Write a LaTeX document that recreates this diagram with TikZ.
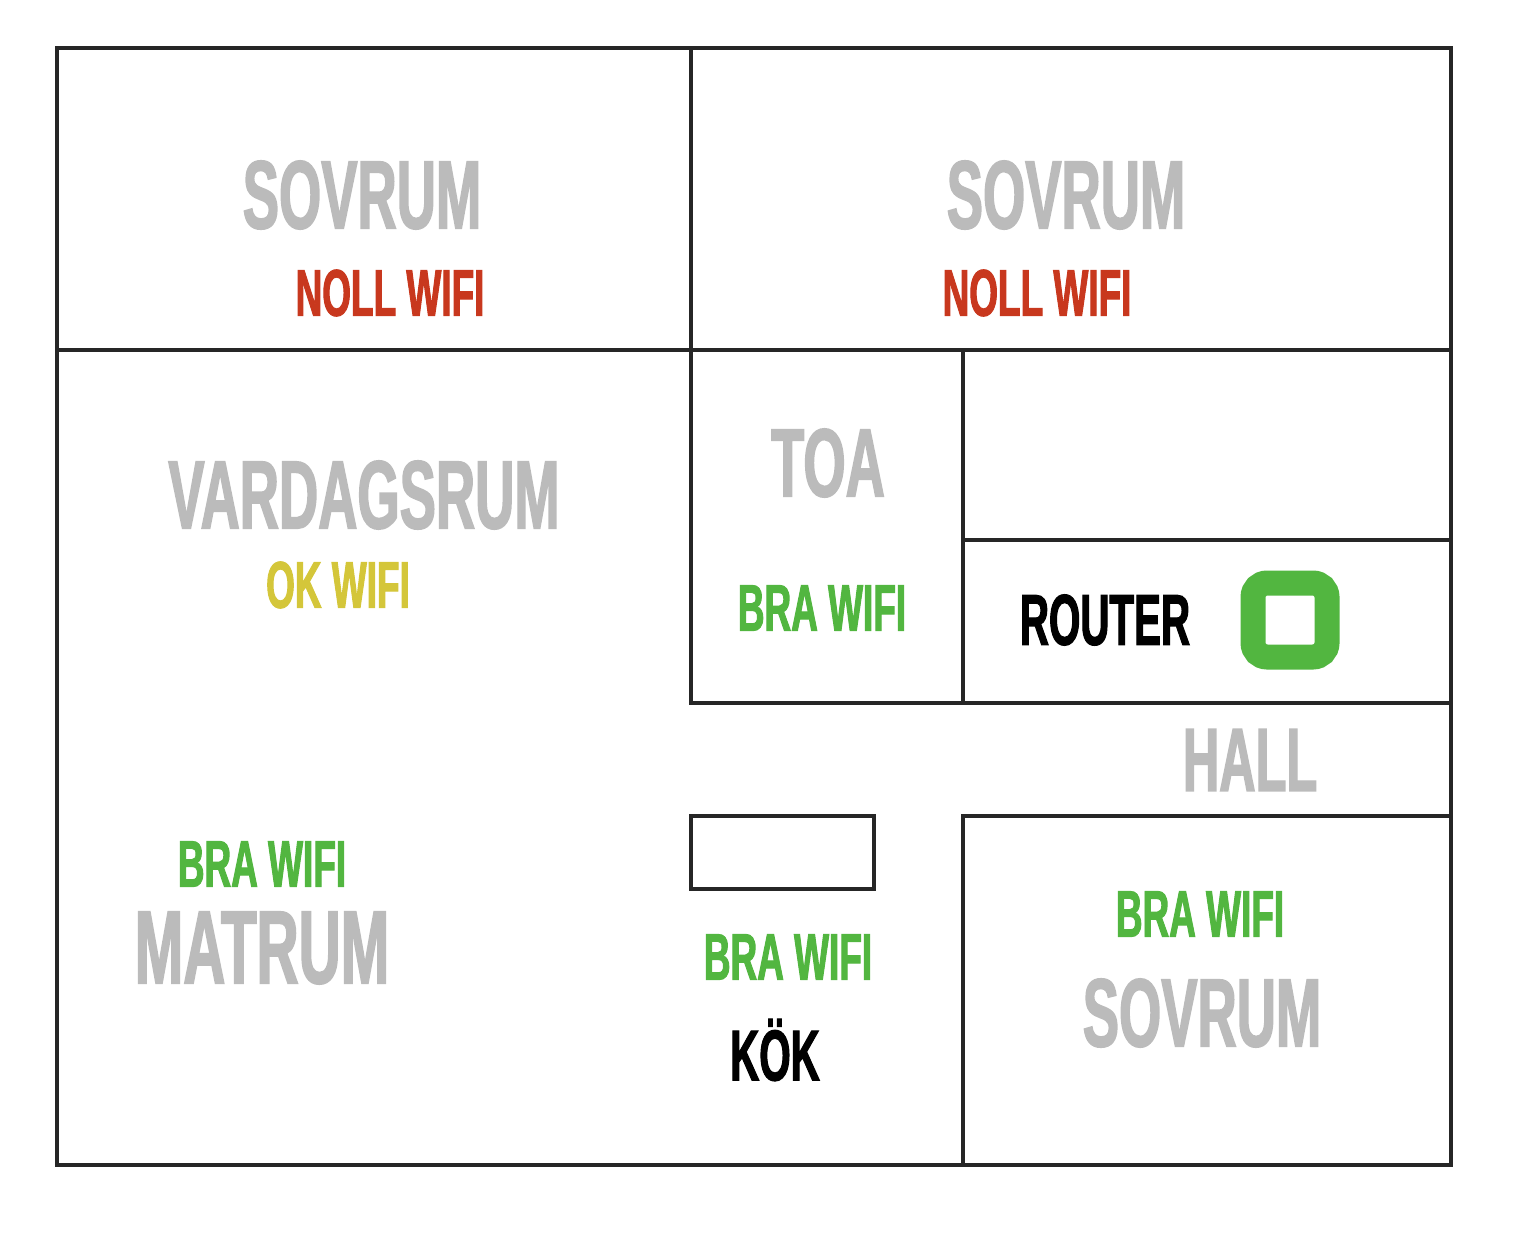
\documentclass[tikz,border=0pt]{standalone}
\usepackage{fontspec}
\setmainfont{Liberation Sans Bold}[FakeStretch=0.56,FakeBold=1.5]
\definecolor{roomgray}{HTML}{BBBBBB}
\definecolor{nollred}{HTML}{C8381E}
\definecolor{okyellow}{HTML}{D4C63A}
\definecolor{bragreen}{HTML}{52B640}
\tikzset{
  wall/.style={draw=black!85,line width=4.5pt},
  roomname/.style={text=roomgray,font=\fontsize{97}{100}\selectfont,inner sep=0pt},
  wifi/.style={font=\fontsize{66}{70}\selectfont,inner sep=0pt},
}
\begin{document}
\begin{tikzpicture}[x=1pt,y=-1pt]
\useasboundingbox (0,0) rectangle (1536,1244);
% walls
\draw[wall] (57,48) rectangle (1451,1165);
\draw[wall] (57,350) -- (1451,350);
\draw[wall] (691,48) -- (691,703) -- (1451,703);
\draw[wall] (963,350) -- (963,703);
\draw[wall] (963,540) -- (1451,540);
\draw[wall] (963,1165) -- (963,816) -- (1451,816);
\draw[wall] (691,816) rectangle (874,889);
% router
\draw[draw=bragreen,line width=25pt,rounded corners=14pt] (1253,583) rectangle (1327,657);
% rooms
\node[roomname] (sovrumA) at (362,195) {SOVRUM};
\node[wifi,text=nollred] (wifiA) at (390,293) {NOLL WIFI};
\node[roomname] (sovrumB) at (1066,195) {SOVRUM};
\node[wifi,text=nollred] (wifiB) at (1037,293) {NOLL WIFI};
\node[roomname] (vardag) at (364,495) {VARDAGSRUM};
\node[wifi,text=okyellow] (wifiC) at (338,585) {OK WIFI};
\node[roomname] (toa) at (828,463) {TOA};
\node[wifi,text=bragreen] (wifiD) at (822,608) {BRA WIFI};
\node[wifi,text=black,font=\fontsize{72}{76}\selectfont] (router) at (1105,620) {ROUTER};
\node[roomname,font=\fontsize{90}{94}\selectfont] (hall) at (1250,760) {HALL};
\node[wifi,text=bragreen] (wifiE) at (262,864) {BRA WIFI};
\node[roomname,font=\fontsize{104}{108}\selectfont] (matrum) at (262,948) {MATRUM};
\node[wifi,text=bragreen] (wifiF) at (788,957) {BRA WIFI};
\node[wifi,text=black,font=\fontsize{72}{76}\selectfont] (kok) at (775,1050) {KÖK};
\node[wifi,text=bragreen] (wifiG) at (1200,914) {BRA WIFI};
\node[roomname] (sovrumC) at (1202,1013) {SOVRUM};
\end{tikzpicture}
\end{document}
